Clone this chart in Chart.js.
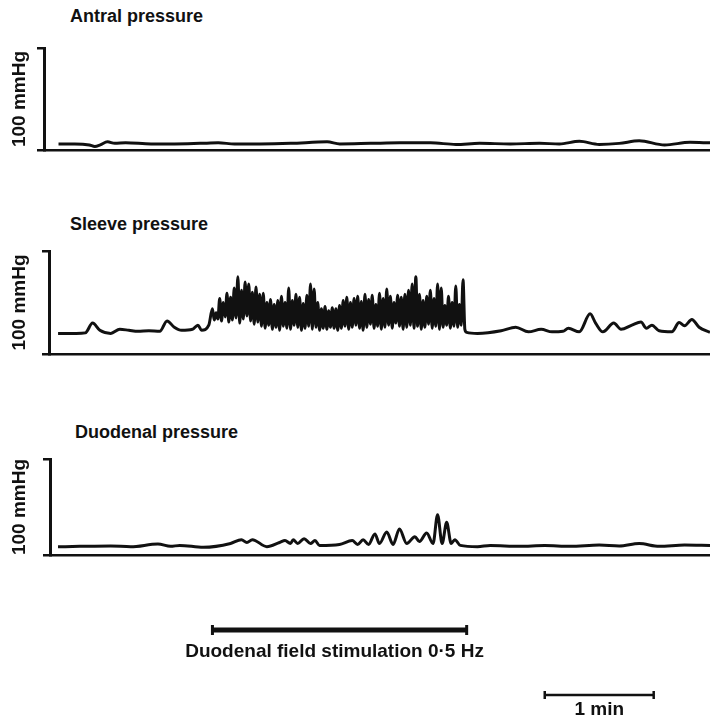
<!DOCTYPE html>
<html>
<head>
<meta charset="utf-8">
<script src="https://cdn.jsdelivr.net/npm/chart.js"></script>
<style>
  body { margin: 0; background: #fff; width: 710px; height: 723px; position: relative; overflow: hidden;
         font-family: "Liberation Sans", Arial, sans-serif; }
  .box { position: absolute; left: 0; width: 710px; }
  .label { position: absolute; font-weight: bold; font-size: 18px; line-height: 1; color: #111; white-space: nowrap; }
</style>
</head>
<body>
<div class="label" style="left:70px; top:7px">Antral pressure</div>
<div class="label" style="left:70px; top:215px">Sleeve pressure</div>
<div class="label" style="left:75px; top:423px">Duodenal pressure</div>

<div class="box" style="top:44px; height:112px"><canvas id="antral"></canvas></div>
<div class="box" style="top:247px; height:113px"><canvas id="sleeve"></canvas></div>
<div class="box" style="top:455px; height:106px"><canvas id="duodenal"></canvas></div>
<div class="box" style="top:610px; height:110px"><canvas id="marks"></canvas></div>

<script>
// time in seconds from the start of the traces, pressure in mmHg
const antralTime = [0, 9, 17, 20, 23, 27, 31, 37, 51, 64, 78, 88, 97, 111, 128, 148, 155, 172, 188, 205,
  219, 232, 249, 265, 276, 287, 298, 309, 320, 334, 348, 359];
const antralPressure = [6, 6, 5, 3.5, 5, 8, 6.5, 7, 6, 6, 6.5, 7, 6, 6, 6.5, 8, 6, 6.5, 7, 7,
  5.5, 6.5, 6, 6.5, 6, 8.5, 5.5, 6.5, 9, 5, 7.5, 7];

// sleeve: before stimulation
const sleevePreTime = [0, 10, 15, 19, 23, 29, 34, 39, 44, 50, 56, 60, 64, 68, 74, 77, 79, 83];
const sleevePrePressure = [20, 20, 20.5, 30, 23, 20, 24, 23, 22, 22.5, 22, 32, 26, 23, 24, 28, 23, 28];
// sleeve: during stimulation, one peak and one trough every 2 s from t = 85 s
const stimStart = 85;
const stimPeaks = [44, 40, 54, 50, 59, 55, 64, 75, 62, 70, 68, 60, 65, 58, 59, 50, 53, 48, 52, 56,
  50, 64, 52, 58, 55, 49, 57, 68, 63, 50, 44, 46, 42, 45, 44, 47, 52, 55, 50, 54,
  56, 51, 58, 53, 57, 48, 59, 54, 63, 56, 50, 57, 55, 58, 62, 68, 75, 58, 52, 56,
  62, 54, 68, 64, 47, 56, 50, 66, 48, 72];
const stimTroughs = [33, 34, 32, 36, 31, 33, 35, 30, 34, 37, 32, 29, 31,
  27, 25, 28, 24, 26, 23, 27, 25, 24, 28, 26, 23, 25, 27, 24, 26, 23, 25, 24, 26, 25, 23,
  25, 27, 24, 26, 28, 25, 23, 26, 29, 25, 27, 24, 26, 28, 25, 30, 27, 24, 26, 28,
  25, 27, 24, 26, 29, 25, 27, 24, 26, 28, 25, 27, 26, 28, 24];
// sleeve: after stimulation
const sleevePostTime = [225, 231, 244, 252, 259, 266, 272, 278, 281, 287, 293, 296, 300, 306, 310, 316,
  321, 324, 327, 331, 338, 342, 345, 349, 353, 359];
const sleevePostPressure = [21, 20, 22.5, 26, 21.5, 24, 21.5, 22, 25, 21.5, 39, 30, 21.5, 30, 24, 28,
  31, 25, 28, 22.5, 21.5, 30.5, 27.5, 33.5, 26, 21];

const duodenalTime = [0, 12, 29, 40, 55, 62, 67, 80, 95, 101, 104, 107, 115, 122, 125, 128, 129.5, 132, 135.5, 139,
  141.5, 144, 155, 162, 165, 168, 171, 174.5, 177, 181, 184.5, 188, 192, 196.5, 199, 203, 206.5, 209, 211.5, 214,
  216.5, 218.5, 221.5, 231, 238, 254, 268, 282, 298, 309, 320, 331, 345, 359];
const duodenalPressure = [8.5, 9, 9.5, 8.5, 11.5, 9, 10, 8, 12, 16, 13, 16, 8.7, 13, 15, 12, 16, 12, 17, 12,
  15, 10, 11, 15, 11, 16, 11, 22, 12, 24, 11, 27, 12, 19, 14, 23, 12, 42, 12, 34,
  12, 16, 10, 8.7, 10, 9, 10, 9, 10.5, 9.5, 12, 9, 10.5, 10];

const stimWindow = [85, 225];   // duodenal field stimulation, s
const oneMinute = [268, 328];   // scale bar, s

const ink = '#111';
const family = '"Liberation Sans", Arial, sans-serif';

function points(times, values) {
  return times.map((t, i) => ({ x: t, y: values[i] }));
}

let sleeveData = points(sleevePreTime, sleevePrePressure);
stimPeaks.forEach((p, k) => {
  sleeveData.push({ x: stimStart + 2 * k, y: p });
  sleeveData.push({ x: stimStart + 2 * k + 1, y: stimTroughs[k] });
});
sleeveData = sleeveData.concat(points(sleevePostTime, sleevePostPressure));

function panel(id, axisWidth, xMin, data) {
  return new Chart(document.getElementById(id), {
    type: 'line',
    data: { datasets: [{ data: data }] },
    options: {
      animation: false,
      responsive: true,
      maintainAspectRatio: false,
      layout: { autoPadding: false, padding: { top: 4, bottom: 6, left: 0, right: 0 } },
      plugins: { legend: { display: false }, tooltip: { enabled: false } },
      elements: {
        point: { radius: 0 },
        line: { borderColor: ink, borderWidth: 3, cubicInterpolationMode: 'monotone' }
      },
      scales: {
        x: {
          type: 'linear', min: xMin, max: 359,
          ticks: { display: false },
          grid: { display: false },
          border: { color: ink, width: 2.5 },
          afterFit: s => { s.height = 0; }
        },
        y: {
          min: 0, max: 100,
          ticks: { display: false, stepSize: 100 },
          grid: { drawOnChartArea: false, color: ink, lineWidth: 2.5, tickLength: 7 },
          border: { color: ink, width: 3 },
          title: {
            display: true, text: '100 mmHg', color: ink,
            font: { family: family, size: 19, weight: 'bold' },
            padding: { top: 8, bottom: 0 }
          },
          afterFit: s => { s.width = axisWidth; }
        }
      }
    }
  });
}

panel('antral', 44, -8, points(antralTime, antralPressure));
panel('sleeve', 49, -5, sleeveData);
panel('duodenal', 50, -4.4, points(duodenalTime, duodenalPressure));

// labels under the stimulation bar and the time scale bar
const barLabels = {
  id: 'barLabels',
  afterDatasetsDraw(chart) {
    const ctx = chart.ctx;
    ctx.save();
    ctx.fillStyle = ink;
    ctx.font = 'bold 19px ' + family;
    ctx.textAlign = 'center';
    ctx.textBaseline = 'alphabetic';
    chart.data.datasets.forEach((ds, i) => {
      const pts = chart.getDatasetMeta(i).data;
      const x = (pts[0].x + pts[pts.length - 1].x) / 2 + ds.labelShift;
      ctx.fillText(ds.label, x, pts[0].y + ds.labelGap);
    });
    ctx.restore();
  }
};

new Chart(document.getElementById('marks'), {
  type: 'line',
  data: {
    datasets: [
      {
        label: 'Duodenal field stimulation 0\u00b75 Hz',
        data: stimWindow.map(t => ({ x: t, y: 90 })),
        borderColor: ink, borderWidth: 5,
        pointStyle: 'line', rotation: 90, pointRadius: 5,
        pointBorderColor: ink, pointBorderWidth: 3,
        labelGap: 27, labelShift: -5
      },
      {
        label: '1 min',
        data: oneMinute.map(t => ({ x: t, y: 25 })),
        borderColor: ink, borderWidth: 2.5,
        pointStyle: 'line', rotation: 90, pointRadius: 4,
        pointBorderColor: ink, pointBorderWidth: 2.5,
        labelGap: 20, labelShift: 0
      }
    ]
  },
  options: {
    animation: false,
    responsive: true,
    maintainAspectRatio: false,
    layout: { autoPadding: false, padding: { left: 49, right: 0, top: 0, bottom: 0 } },
    plugins: { legend: { display: false }, tooltip: { enabled: false } },
    scales: {
      x: { type: 'linear', min: -5, max: 359, display: false },
      y: { min: 0, max: 110, display: false }
    }
  },
  plugins: [barLabels]
});
</script>
</body>
</html>
